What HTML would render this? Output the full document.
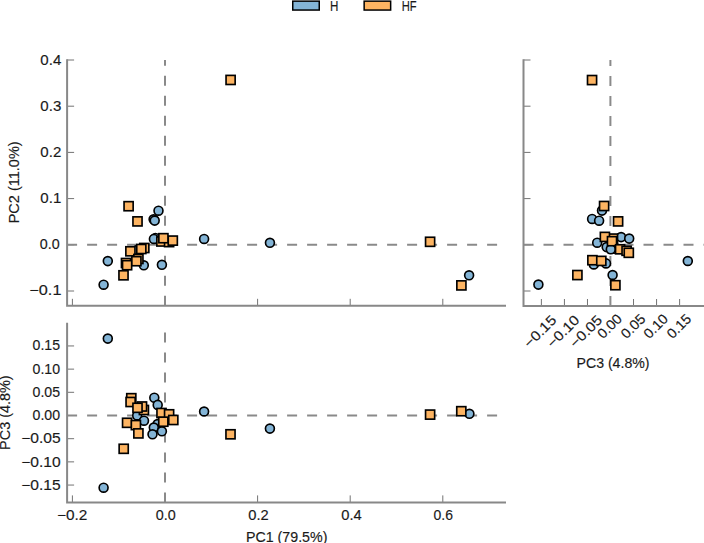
<!DOCTYPE html>
<html><head><meta charset="utf-8"><style>
html,body{margin:0;padding:0;background:#fff;width:704px;height:543px;overflow:hidden}
svg{display:block}
</style></head><body>
<svg width="704" height="543" viewBox="0 0 704 543">
<rect width="704" height="543" fill="#fff"/>
<defs><clipPath id="ctop"><rect x="67.1" y="40" width="438.9" height="265.8"/></clipPath><clipPath id="cbot"><rect x="67.1" y="323" width="438.9" height="179.39999999999998"/></clipPath><clipPath id="cright"><rect x="523.5" y="40" width="180.5" height="266.0"/></clipPath></defs>
<path d="M67.1 60.00h7M67.1 106.20h7M67.1 152.40h7M67.1 198.60h7M67.1 244.80h7M67.1 291.00h7M72.40 305.8v-7M165.00 305.8v-7M257.60 305.8v-7M350.20 305.8v-7M442.80 305.8v-7M67.1 345.94h7M67.1 369.13h7M67.1 392.31h7M67.1 415.50h7M67.1 438.69h7M67.1 461.87h7M67.1 485.06h7M72.40 502.4v-7M165.00 502.4v-7M257.60 502.4v-7M350.20 502.4v-7M442.80 502.4v-7M523.5 60.00h7M523.5 106.20h7M523.5 152.40h7M523.5 198.60h7M523.5 244.80h7M523.5 291.00h7M541.39 306.0v-7M564.43 306.0v-7M587.47 306.0v-7M610.50 306.0v-7M633.53 306.0v-7M656.57 306.0v-7M679.61 306.0v-7" stroke="#737373" stroke-width="1" fill="none"/><line x1="67.1" y1="244.75" x2="506" y2="244.75" stroke="#8a8a8a" stroke-width="2" stroke-dasharray="10 10"/><line x1="165.0" y1="305.8" x2="165.0" y2="60" stroke="#8a8a8a" stroke-width="2" stroke-dasharray="10 10"/><line x1="67.1" y1="415.6" x2="506" y2="415.6" stroke="#8a8a8a" stroke-width="2" stroke-dasharray="10 10"/><line x1="165.0" y1="502.4" x2="165.0" y2="323" stroke="#8a8a8a" stroke-width="2" stroke-dasharray="10 10"/><line x1="523.5" y1="244.75" x2="704" y2="244.75" stroke="#8a8a8a" stroke-width="2" stroke-dasharray="10 10"/><line x1="610.4" y1="306.0" x2="610.4" y2="60" stroke="#8a8a8a" stroke-width="2" stroke-dasharray="10 10"/><path d="M67.1 60.2V305.8H505 M67.1 323.8V502.4H505 M523.5 60.2V306.0H704" stroke="#888888" stroke-width="2" fill="none" stroke-linecap="square"/><g clip-path="url(#ctop)"><g fill="#fdb462" stroke="#000" stroke-width="1.65"></g><g fill="#83b4d6" stroke="#000" stroke-width="1.65"><circle cx="107.8" cy="261.1" r="4.45"/><circle cx="103.6" cy="284.7" r="4.45"/><circle cx="158.5" cy="210.7" r="4.45"/><circle cx="153.6" cy="219.3" r="4.45"/><circle cx="154.7" cy="220.6" r="4.45"/><circle cx="155.4" cy="237.9" r="4.45"/><circle cx="153.9" cy="238.9" r="4.45"/><circle cx="137" cy="250" r="4.45"/><circle cx="143.8" cy="265.3" r="4.45"/><circle cx="161.9" cy="264.8" r="4.45"/><circle cx="204.1" cy="238.9" r="4.45"/><circle cx="269.95" cy="242.8" r="4.45"/><circle cx="469.1" cy="275.3" r="4.45"/></g><g fill="#fdb462" stroke="#000" stroke-width="1.65" stroke-linejoin="miter"><rect x="226.05" y="75.39" width="9.1" height="9.1"/><rect x="124.05" y="201.65" width="9.1" height="9.1"/><rect x="132.95" y="216.85" width="9.1" height="9.1"/><rect x="156.85" y="236.95" width="9.1" height="9.1"/><rect x="164.55" y="237.55" width="9.1" height="9.1"/><rect x="168.25" y="236.05" width="9.1" height="9.1"/><rect x="158.85" y="233.65" width="9.1" height="9.1"/><rect x="139.75" y="243.45" width="9.1" height="9.1"/><rect x="136.75" y="244.45" width="9.1" height="9.1"/><rect x="125.85" y="246.75" width="9.1" height="9.1"/><rect x="121.45" y="258.45" width="9.1" height="9.1"/><rect x="122.55" y="260.65" width="9.1" height="9.1"/><rect x="133.85" y="254.45" width="9.1" height="9.1"/><rect x="131.85" y="256.65" width="9.1" height="9.1"/><rect x="118.95" y="270.75" width="9.1" height="9.1"/><rect x="425.55" y="237.25" width="9.1" height="9.1"/><rect x="456.85" y="280.85" width="9.1" height="9.1"/></g></g><g clip-path="url(#cright)"><g fill="#fdb462" stroke="#000" stroke-width="1.65"><rect x="608.45" y="244.05" width="9.1" height="9.1"/></g><g fill="#83b4d6" stroke="#000" stroke-width="1.65"><circle cx="538.4" cy="284.6" r="4.45"/><circle cx="687.8" cy="261" r="4.45"/><circle cx="602" cy="210.6" r="4.45"/><circle cx="592.1" cy="218.9" r="4.45"/><circle cx="599.1" cy="220.7" r="4.45"/><circle cx="597.2" cy="242.7" r="4.45"/><circle cx="621.1" cy="237.1" r="4.45"/><circle cx="629.2" cy="238.6" r="4.45"/><circle cx="606.7" cy="247.1" r="4.45"/><circle cx="610.8" cy="249.3" r="4.45"/><circle cx="593.8" cy="264.5" r="4.45"/><circle cx="606" cy="263.4" r="4.45"/><circle cx="612.6" cy="275" r="4.45"/></g><g fill="#fdb462" stroke="#000" stroke-width="1.65" stroke-linejoin="miter"><rect x="587.50" y="75.51" width="9.1" height="9.1"/><rect x="599.55" y="201.45" width="9.1" height="9.1"/><rect x="613.55" y="216.85" width="9.1" height="9.1"/><rect x="608.45" y="234.05" width="9.1" height="9.1"/><rect x="600.35" y="232.35" width="9.1" height="9.1"/><rect x="607.45" y="236.65" width="9.1" height="9.1"/><rect x="615.55" y="244.75" width="9.1" height="9.1"/><rect x="622.05" y="246.25" width="9.1" height="9.1"/><rect x="624.25" y="248.25" width="9.1" height="9.1"/><rect x="587.85" y="255.65" width="9.1" height="9.1"/><rect x="596.75" y="256.35" width="9.1" height="9.1"/><rect x="572.85" y="270.51" width="9.1" height="9.1"/><rect x="610.85" y="280.65" width="9.1" height="9.1"/></g></g><g clip-path="url(#cbot)"><g fill="#fdb462" stroke="#000" stroke-width="1.65"></g><g fill="#83b4d6" stroke="#000" stroke-width="1.65"><circle cx="107.8" cy="338.6" r="4.45"/><circle cx="103.6" cy="487.7" r="4.45"/><circle cx="204.1" cy="411.5" r="4.45"/><circle cx="269.9" cy="428.6" r="4.45"/><circle cx="469.4" cy="413.8" r="4.45"/><circle cx="154.3" cy="397.7" r="4.45"/><circle cx="157.7" cy="404.9" r="4.45"/><circle cx="137.2" cy="415.5" r="4.45"/><circle cx="144" cy="420.7" r="4.45"/><circle cx="157.6" cy="424.1" r="4.45"/><circle cx="153.8" cy="427.5" r="4.45"/><circle cx="152.5" cy="434.3" r="4.45"/><circle cx="161.9" cy="431.3" r="4.45"/></g><g fill="#fdb462" stroke="#000" stroke-width="1.65" stroke-linejoin="miter"><rect x="225.95" y="429.75" width="9.1" height="9.1"/><rect x="425.55" y="410.05" width="9.1" height="9.1"/><rect x="456.75" y="406.65" width="9.1" height="9.1"/><rect x="119.15" y="444.25" width="9.1" height="9.1"/><rect x="126.75" y="393.65" width="9.1" height="9.1"/><rect x="126.05" y="397.45" width="9.1" height="9.1"/><rect x="139.35" y="405.45" width="9.1" height="9.1"/><rect x="137.45" y="401.95" width="9.1" height="9.1"/><rect x="132.95" y="403.25" width="9.1" height="9.1"/><rect x="122.55" y="418.25" width="9.1" height="9.1"/><rect x="131.35" y="420.55" width="9.1" height="9.1"/><rect x="133.85" y="428.85" width="9.1" height="9.1"/><rect x="156.95" y="408.45" width="9.1" height="9.1"/><rect x="164.55" y="409.75" width="9.1" height="9.1"/><rect x="168.75" y="415.45" width="9.1" height="9.1"/><rect x="158.75" y="417.15" width="9.1" height="9.1"/></g></g><g font-family='"Liberation Sans", sans-serif' font-size="14.0" fill="#1a1a1a" stroke="#1a1a1a" stroke-width="0.15"><text transform="translate(40.35 64.60) rotate(0) scale(1.0763 1)">0.4</text><text transform="translate(40.35 110.60) rotate(0) scale(1.0763 1)">0.3</text><text transform="translate(40.35 157.00) rotate(0) scale(1.0763 1)">0.2</text><text transform="translate(40.35 203.20) rotate(0) scale(1.0763 1)">0.1</text><text transform="translate(39.85 249.40) rotate(0) scale(1.0225 1)">0.0</text><text transform="translate(29.35 294.80) rotate(0) scale(1.1607 1)">−0.1</text><text transform="translate(32.55 350.40) rotate(0) scale(1.0090 1)">0.15</text><text transform="translate(32.55 373.60) rotate(0) scale(1.0090 1)">0.10</text><text transform="translate(32.55 396.80) rotate(0) scale(1.0090 1)">0.05</text><text transform="translate(32.55 420.00) rotate(0) scale(1.0090 1)">0.00</text><text transform="translate(21.25 443.40) rotate(0) scale(1.1148 1)">−0.05</text><text transform="translate(21.25 467.20) rotate(0) scale(1.1148 1)">−0.10</text><text transform="translate(21.25 490.00) rotate(0) scale(1.1148 1)">−0.15</text><text transform="translate(57.00 519.85) rotate(0) scale(1.1000 1)">−0.2</text><text transform="translate(155.85 519.85) rotate(0) scale(1.0254 1)">0.0</text><text transform="translate(248.30 519.85) rotate(0) scale(1.0505 1)">0.2</text><text transform="translate(341.30 519.85) rotate(0) scale(1.0505 1)">0.4</text><text transform="translate(433.60 519.85) rotate(0) scale(0.9980 1)">0.6</text><text transform="translate(245.95 541.50) rotate(0) scale(1.0179 1)">PC1 (79.5%)</text><text transform="translate(576.55 367.95) rotate(0) scale(1.0089 1)">PC3 (4.8%)</text><text transform="translate(19.05 223.30) rotate(-90) scale(1.0362 1)">PC2 (11.0%)</text><text transform="translate(9.55 449.90) rotate(-90) scale(1.0308 1)">PC3 (4.8%)</text><text transform="translate(329.95 10.90) rotate(0) scale(0.8308 1)">H</text><text transform="translate(401.65 10.90) rotate(0) scale(0.7994 1)">HF</text><text transform="translate(529.55 348.70) rotate(-45) scale(1.1060 1)">−0.15</text><text transform="translate(552.65 348.70) rotate(-45) scale(1.1060 1)">−0.10</text><text transform="translate(575.45 348.70) rotate(-45) scale(1.1060 1)">−0.05</text><text transform="translate(603.00 339.55) rotate(-45) scale(1.0273 1)">0.00</text><text transform="translate(626.50 339.55) rotate(-45) scale(1.0273 1)">0.05</text><text transform="translate(649.20 339.55) rotate(-45) scale(1.0273 1)">0.10</text><text transform="translate(672.40 339.55) rotate(-45) scale(1.0273 1)">0.15</text></g><rect x="292.75" y="1.15" width="26.5" height="8.9" fill="#83b4d6" stroke="#000" stroke-width="1.5"/><rect x="364.15" y="1.15" width="26.5" height="8.9" fill="#fdb462" stroke="#000" stroke-width="1.5"/>
</svg>
</body></html>
